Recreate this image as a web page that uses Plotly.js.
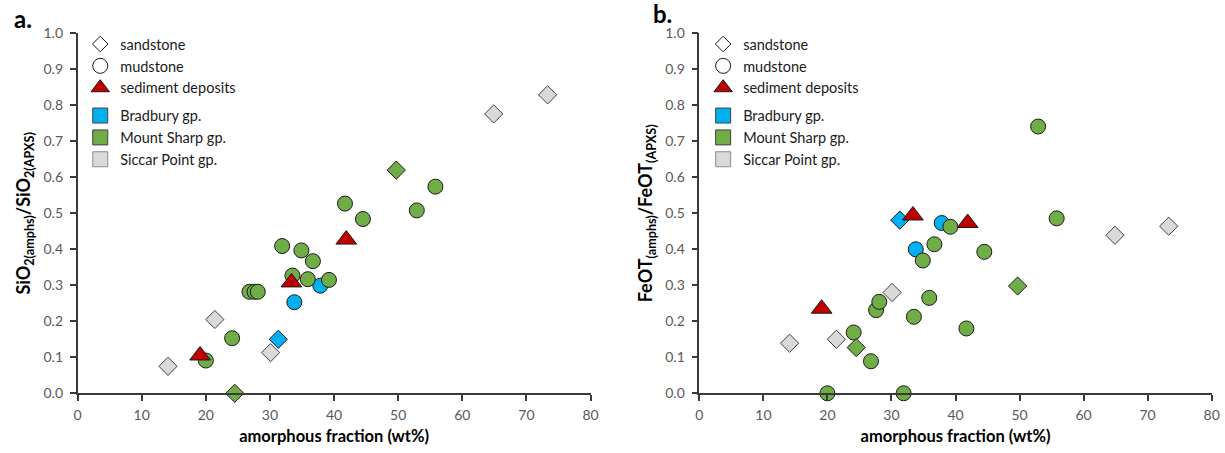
<!DOCTYPE html>
<html>
<head>
<meta charset="utf-8">
<script src="https://cdn.plot.ly/plotly-3.0.1.min.js"></script>
<style>html,body{margin:0;padding:0;background:#fff;}#chart{width:1225px;height:453px;}</style>
</head>
<body>
<div id="chart"></div>
<script>
// ---- data (amorphous fraction wt% ; SiO2 ratio ; FeOT ratio) ----
// Siccar Point gp., sandstone
const siccarSandX  = [14.1, 21.4, 30.1, 64.9, 73.3];
const siccarSandSi = [0.075, 0.205, 0.113, 0.776, 0.829];
const siccarSandFe = [0.139, 0.150, 0.280, 0.439, 0.464];
// Mount Sharp gp., sandstone
const sharpSandX  = [24.5, 49.7];
const sharpSandSi = [0.000, 0.620];
const sharpSandFe = [0.127, 0.298];
// Bradbury gp., sandstone
const bradSandX  = [31.3];
const bradSandSi = [0.150];
const bradSandFe = [0.481];
// Bradbury gp., mudstone
const bradMudX  = [33.8, 37.85];
const bradMudSi = [0.253, 0.299];
const bradMudFe = [0.400, 0.473];
// Mount Sharp gp., mudstone
const sharpMudX  = [20.0, 24.1, 26.8, 27.6, 28.1, 31.9, 33.5, 34.9, 35.9, 36.7, 39.2, 41.7, 44.5, 52.9, 55.8];
const sharpMudSi = [0.091, 0.153, 0.282, 0.282, 0.282, 0.409, 0.327, 0.397, 0.317, 0.367, 0.315, 0.527, 0.484, 0.508, 0.574];
const sharpMudFe = [0.000, 0.169, 0.089, 0.231, 0.254, 0.000, 0.2125, 0.369, 0.265, 0.414, 0.4625, 0.180, 0.393, 0.741, 0.486];
// sediment deposits
const sedX  = [19.1, 33.35, 41.9];
const sedSi = [0.105, 0.308, 0.427];
const sedFe = [0.235, 0.494, 0.473];

const xTicks = [0, 10, 20, 30, 40, 50, 60, 70, 80];
const yTicks = [0.0, 0.1, 0.2, 0.3, 0.4, 0.5, 0.6, 0.7, 0.8, 0.9, 1.0];

const shapeNames = ['sandstone', 'mudstone', 'sediment deposits'];
const groupNames = ['Bradbury gp.', 'Mount Sharp gp.', 'Siccar Point gp.'];

const BLUE = '#00b0f0', GREEN = '#70ad47', GRAY = '#d9d9d9', RED = '#c00000';
const FONT = 'Lato, "Liberation Sans", sans-serif';

function pts(x, y, axis, symbol, color, size, lineColor) {
  return {
    type: 'scatter', mode: 'markers', x: x, y: y,
    xaxis: axis === 1 ? 'x' : 'x2', yaxis: axis === 1 ? 'y' : 'y2',
    showlegend: false, cliponaxis: false, hoverinfo: 'x+y',
    marker: {symbol: symbol, size: size, color: color, line: {color: lineColor || '#1a1a1a', width: 1}}
  };
}

const traces = [];
[[1, 'Si'], [2, 'Fe']].forEach(([ax, k]) => {
  const pick = (si, fe) => k === 'Si' ? si : fe;
  traces.push(pts(bradMudX, pick(bradMudSi, bradMudFe), ax, 'circle', BLUE, 15));
  traces.push(pts(sharpMudX, pick(sharpMudSi, sharpMudFe), ax, 'circle', GREEN, 15));
  traces.push(pts(siccarSandX, pick(siccarSandSi, siccarSandFe), ax, 'diamond', GRAY, 14, '#404040'));
  traces.push(pts(sharpSandX, pick(sharpSandSi, sharpSandFe), ax, 'diamond', GREEN, 14));
  traces.push(pts(bradSandX, pick(bradSandSi, bradSandFe), ax, 'diamond', BLUE, 14));
  traces.push(pts(sedX, pick(sedSi, sedFe), ax, 'triangle-up', RED, 18));
});

// legend entries (key only)
const legendSpec = [
  {name: shapeNames[0], group: 'shape', symbol: 'diamond', color: '#ffffff', line: '#1a1a1a', size: 12},
  {name: shapeNames[1], group: 'shape', symbol: 'circle', color: '#ffffff', line: '#1a1a1a', size: 15},
  {name: shapeNames[2], group: 'shape', symbol: 'triangle-up', color: RED, line: '#1a1a1a', size: 16},
  {name: groupNames[0], group: 'color', symbol: 'square', color: BLUE, line: '#404040', size: 15},
  {name: groupNames[1], group: 'color', symbol: 'square', color: GREEN, line: '#404040', size: 15},
  {name: groupNames[2], group: 'color', symbol: 'square', color: GRAY, line: '#8c8c8c', size: 15}
];
['legend', 'legend2'].forEach((lg, i) => {
  legendSpec.forEach(s => {
    traces.push({
      type: 'scatter', mode: 'markers', x: [null], y: [null],
      xaxis: i === 0 ? 'x' : 'x2', yaxis: i === 0 ? 'y' : 'y2',
      name: s.name, legend: lg, legendgroup: s.group + lg, showlegend: true, hoverinfo: 'skip',
      marker: {symbol: s.symbol, size: s.size, color: s.color, line: {color: s.line, width: 1}}
    });
  });
});

const axisCommon = {
  showline: true, linecolor: '#3a3a3a', linewidth: 1.5,
  ticks: 'outside', ticklen: 6, tickwidth: 1.5, tickcolor: '#3a3a3a',
  showgrid: false, zeroline: false,
  tickfont: {family: FONT, size: 14, color: '#595959'}
};
const xAx = dom => Object.assign({}, axisCommon, {
  domain: dom, range: [0, 80], tickvals: xTicks, ticktext: xTicks.map(String),
  ticklabelstandoff: 2,
  title: {text: 'amorphous fraction (wt%)', font: {family: FONT, size: 16.5, color: '#000', weight: 'bold'}, standoff: 9}
});
const yAx = (anchor, title) => Object.assign({}, axisCommon, {
  domain: [0.1318, 0.9265], range: [0, 1], anchor: anchor,
  tickvals: yTicks, ticktext: yTicks.map(v => v.toFixed(1)),
  ticklabelstandoff: 4,
  title: {text: title, font: {family: FONT, size: 18, color: '#000', weight: 'bold'}, standoff: 8}
});

const legendCommon = {
  font: {family: FONT, size: 14.5, color: '#1a1a1a'}, bgcolor: 'rgba(0,0,0,0)',
  traceorder: 'grouped', tracegroupgap: 6, itemsizing: 'trace', itemwidth: 30,
  xanchor: 'left', yanchor: 'top'
};

const layout = {
  width: 1225, height: 453,
  margin: {l: 0, r: 0, t: 0, b: 0},
  paper_bgcolor: '#ffffff', plot_bgcolor: '#ffffff',
  font: {family: FONT},
  xaxis: Object.assign(xAx([0.06335, 0.4821]), {anchor: 'y'}),
  yaxis: yAx('x', 'SiO<sub>2(amphs)</sub>/SiO<sub>2(APXS)</sub>'),
  xaxis2: Object.assign(xAx([0.5709, 0.9891]), {anchor: 'y2'}),
  yaxis2: yAx('x2', 'FeOT<sub>(amphs)</sub>/FeOT<sub>(APXS)</sub>'),
  legend: Object.assign({}, legendCommon, {x: 0.0655, y: 0.938}),
  legend2: Object.assign({}, legendCommon, {x: 0.574, y: 0.938}),
  annotations: [
    {text: '<b>a.</b>', xref: 'paper', yref: 'paper', x: 0.019, y: 0.96, xanchor: 'center', yanchor: 'middle', showarrow: false, font: {family: FONT, size: 24, color: '#000'}},
    {text: '<b>b.</b>', xref: 'paper', yref: 'paper', x: 0.5405, y: 0.97, xanchor: 'center', yanchor: 'middle', showarrow: false, font: {family: FONT, size: 24, color: '#000'}}
  ],
  hovermode: 'closest'
};

Plotly.newPlot('chart', traces, layout, {displayModeBar: false});
</script>
</body>
</html>
